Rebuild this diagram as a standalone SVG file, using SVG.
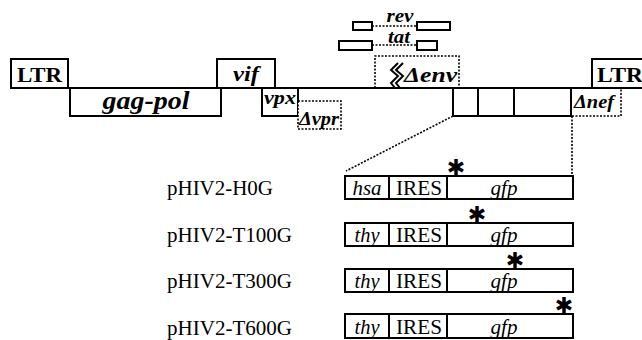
<svg xmlns="http://www.w3.org/2000/svg" width="642" height="340" viewBox="0 0 642 340">
<style>
.box{fill:#fff;stroke:#000;stroke-width:2}
.dbox{fill:#fff;stroke:#000;stroke-width:1.6;stroke-dasharray:2 1.5}
.dl{fill:none;stroke:#000;stroke-width:1.6;stroke-dasharray:2 1.5}
.ln{fill:none;stroke:#000;stroke-width:2}
.bi{font-family:"Liberation Serif",serif;font-weight:bold;font-style:italic;fill:#000}
.b{font-family:"Liberation Serif",serif;font-weight:bold;fill:#000}
.r{font-family:"Liberation Serif",serif;fill:#000;font-size:20px}
.i{font-family:"Liberation Serif",serif;font-style:italic;fill:#000;font-size:20px}
.ast{font-family:"DejaVu Sans",sans-serif;font-size:22px;font-weight:bold;fill:#000;text-anchor:middle}
</style>
<rect width="642" height="340" fill="#fff"/>
<g id="connectors">
<line class="ln" x1="68" y1="88" x2="642" y2="88"/>
<line class="dl" x1="453" y1="116" x2="346" y2="171"/>
<line class="dl" x1="572" y1="116" x2="572" y2="175"/>
<line class="dl" x1="372" y1="26" x2="417" y2="26"/>
<line class="dl" x1="372" y1="45" x2="417" y2="45"/>
</g>
<g id="LTR-left"><rect class="box" x="11" y="59" width="57" height="29"/><text class="b" x="39.5" y="82" font-size="21" text-anchor="middle" textLength="45" lengthAdjust="spacingAndGlyphs">LTR</text></g>
<g id="gag-pol"><rect class="box" x="70" y="88" width="151" height="28"/><text class="bi" x="146" y="109" font-size="25" text-anchor="middle" textLength="87" lengthAdjust="spacingAndGlyphs">gag-pol</text></g>
<g id="vif"><rect class="box" x="217" y="59" width="58" height="29"/><text class="bi" x="246" y="81" font-size="22" text-anchor="middle" textLength="26" lengthAdjust="spacingAndGlyphs">vif</text></g>
<g id="vpx"><rect class="box" x="262" y="88" width="36" height="28"/><text class="bi" x="280" y="104" font-size="19" text-anchor="middle" textLength="32" lengthAdjust="spacingAndGlyphs">vpx</text></g>
<g id="dvpr"><rect class="dbox" x="298" y="101" width="43" height="28"/><text class="bi" x="299" y="125" font-size="18" textLength="40" lengthAdjust="spacingAndGlyphs">Δvpr</text></g>
<g id="rev"><rect class="box" x="353" y="22" width="19" height="8"/><rect class="box" x="417" y="22" width="33" height="8"/><rect x="387" y="13" width="28" height="12" fill="#fff"/><text class="bi" x="400" y="22" font-size="18" text-anchor="middle" textLength="27" lengthAdjust="spacingAndGlyphs">rev</text></g>
<g id="tat"><rect class="box" x="339" y="41" width="33" height="9"/><rect class="box" x="417" y="41" width="20" height="9"/><text class="bi" x="399" y="43" font-size="18" text-anchor="middle" textLength="22" lengthAdjust="spacingAndGlyphs">tat</text></g>
<g id="denv"><path class="dl" d="M375,88 V56 H459 V88"/>
<path class="ln" stroke-width="1.4" d="M398,63 L391,70 L398,76 L391,83 L395,88 M403,63 L396,70 L403,76 L396,83 L400,88"/>
<text class="bi" x="404" y="82" font-size="20" textLength="53" lengthAdjust="spacingAndGlyphs">Δenv</text></g>
<g id="insert"><rect class="box" x="453" y="88" width="118" height="28"/><line class="ln" x1="478" y1="88" x2="478" y2="116"/><line class="ln" x1="514" y1="88" x2="514" y2="116"/></g>
<g id="dnef"><path class="dl" d="M572,116 H621 V88"/><text class="bi" x="574" y="108" font-size="18" textLength="40" lengthAdjust="spacingAndGlyphs">Δnef</text></g>
<g id="LTR-right"><rect class="box" x="592" y="59" width="60" height="29"/><text class="b" x="597" y="82" font-size="21" textLength="46" lengthAdjust="spacingAndGlyphs">LTR</text></g>

<g id="row-H0G">
<text class="r" x="167" y="195" textLength="106" lengthAdjust="spacingAndGlyphs">pHIV2-H0G</text>
<rect class="box" x="345" y="176" width="228" height="23"/><line class="ln" x1="389" y1="176" x2="389" y2="199"/><line class="ln" x1="447" y1="176" x2="447" y2="199"/>
<text class="i" x="367" y="195" text-anchor="middle" textLength="29" lengthAdjust="spacingAndGlyphs">hsa</text><text class="r" x="419" y="195" text-anchor="middle" textLength="46" lengthAdjust="spacingAndGlyphs">IRES</text><text class="i" x="504" y="195" text-anchor="middle" textLength="27" lengthAdjust="spacingAndGlyphs">gfp</text>
<text class="ast" x="456" y="175">✱</text>
</g>
<g id="row-T100G">
<text class="r" x="167" y="242" textLength="125" lengthAdjust="spacingAndGlyphs">pHIV2-T100G</text>
<rect class="box" x="345" y="223" width="228" height="23"/><line class="ln" x1="389" y1="223" x2="389" y2="246"/><line class="ln" x1="447" y1="223" x2="447" y2="246"/>
<text class="i" x="367" y="242" text-anchor="middle" textLength="25" lengthAdjust="spacingAndGlyphs">thy</text><text class="r" x="419" y="242" text-anchor="middle" textLength="46" lengthAdjust="spacingAndGlyphs">IRES</text><text class="i" x="504" y="242" text-anchor="middle" textLength="27" lengthAdjust="spacingAndGlyphs">gfp</text>
<text class="ast" x="477" y="222">✱</text>
</g>
<g id="row-T300G">
<text class="r" x="167" y="288" textLength="125" lengthAdjust="spacingAndGlyphs">pHIV2-T300G</text>
<rect class="box" x="345" y="269" width="228" height="23"/><line class="ln" x1="389" y1="269" x2="389" y2="292"/><line class="ln" x1="447" y1="269" x2="447" y2="292"/>
<text class="i" x="367" y="288" text-anchor="middle" textLength="25" lengthAdjust="spacingAndGlyphs">thy</text><text class="r" x="419" y="288" text-anchor="middle" textLength="46" lengthAdjust="spacingAndGlyphs">IRES</text><text class="i" x="504" y="288" text-anchor="middle" textLength="27" lengthAdjust="spacingAndGlyphs">gfp</text>
<text class="ast" x="515" y="268">✱</text>
</g>
<g id="row-T600G">
<text class="r" x="167" y="335" textLength="125" lengthAdjust="spacingAndGlyphs">pHIV2-T600G</text>
<rect class="box" x="345" y="314" width="228" height="24"/><line class="ln" x1="389" y1="314" x2="389" y2="338"/><line class="ln" x1="447" y1="314" x2="447" y2="338"/>
<text class="i" x="367" y="334" text-anchor="middle" textLength="25" lengthAdjust="spacingAndGlyphs">thy</text><text class="r" x="419" y="334" text-anchor="middle" textLength="46" lengthAdjust="spacingAndGlyphs">IRES</text><text class="i" x="504" y="334" text-anchor="middle" textLength="27" lengthAdjust="spacingAndGlyphs">gfp</text>
<text class="ast" x="564" y="313">✱</text>
</g>
</svg>
